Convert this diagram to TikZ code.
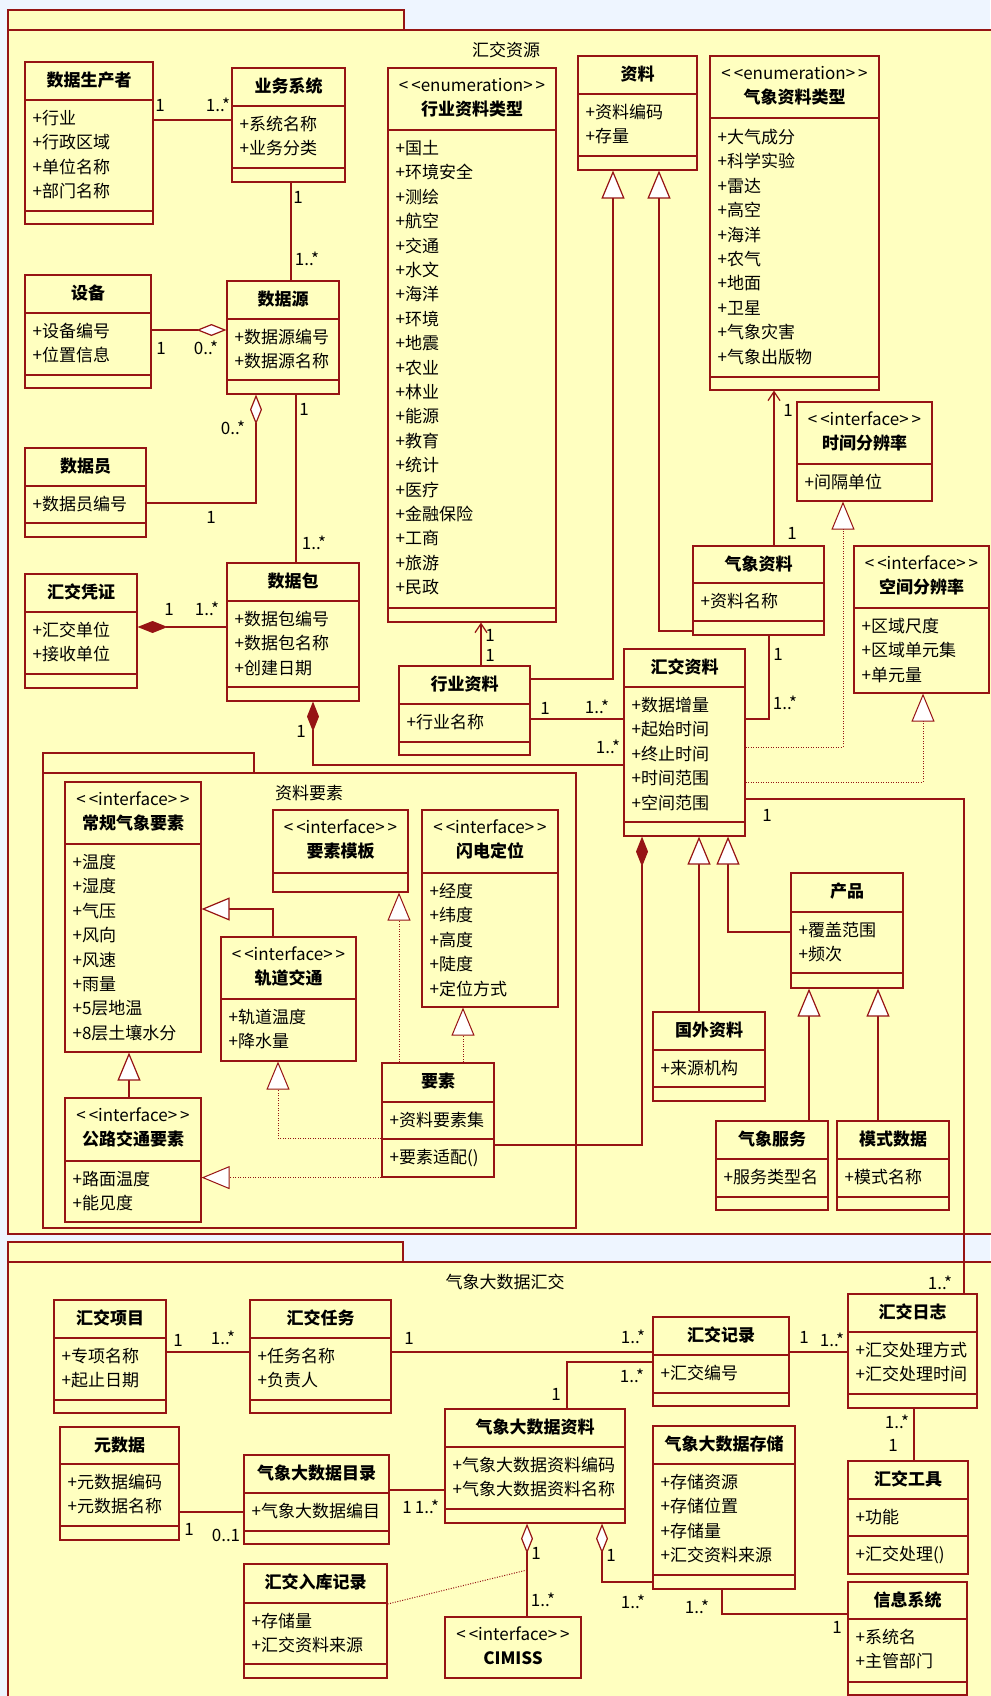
\documentclass[tikz,border=0pt]{standalone}
\usepackage{fontspec}
\setmainfont{Noto Sans CJK SC}
\usetikzlibrary{arrows.meta, fit}

\definecolor{umlred}{RGB}{150,20,20}
\definecolor{umlfill}{RGB}{255,255,192}
\definecolor{umlbg}{RGB}{238,245,255}

\newcommand{\umlfont}{\fontsize{17pt}{20pt}\selectfont}

\tikzset{
  uml/.style={draw=umlred, line width=1.2pt},
  classbox/.style={uml, fill=umlfill, inner sep=0pt},
  pkg/.style={uml, fill=umlfill, inner sep=0pt},
  plabel/.style={inner sep=0pt, font=\umlfont},
  ctitle/.style={inner sep=0pt, text height=15pt, text depth=2pt, font=\umlfont\bfseries},
  cstereo/.style={inner sep=0pt, text height=15pt, text depth=2pt, font=\umlfont},
  cattr/.style={anchor=west, inner sep=0pt, text height=15pt, text depth=2pt, font=\umlfont},
  mult/.style={inner sep=0pt, text height=15pt, text depth=2pt, font=\umlfont},
  assoc/.style={uml},
  dotline/.style={uml, line width=1pt, dash pattern=on 1pt off 1.5pt},
  gen/.style={uml, -{Triangle[length=28pt, width=23pt, fill=white]}},
  real/.style={dotline, -{Triangle[length=28pt, width=23pt, fill=white]}},
  navi/.style={uml, -{Straight Barb[length=9pt, width=12pt]}},
  aggr/.style={uml, {Diamond[length=30pt, width=12pt, fill=white]}-},
  comp/.style={uml, {Diamond[length=30pt, width=12pt, fill=umlred]}-},
}

% class box: name, NW corner, SE corner, divider y's, title
\newcommand{\umlclass}[5]{%
  \node[classbox, fit={(#2) (#3)}] (#1) {};
  \foreach \d in {#4} {\draw[uml] (#1.west |- 0,\d) -- (#1.east |- 0,\d);}
  \node[ctitle] (#1-t) at ([yshift=-18.5pt]#1.north) {#5};
}
% class box with stereotype
\newcommand{\umlstereo}[6]{%
  \node[classbox, fit={(#2) (#3)}] (#1) {};
  \foreach \d in {#4} {\draw[uml] (#1.west |- 0,\d) -- (#1.east |- 0,\d);}
  \node[cstereo] (#1-s) at ([yshift=-18pt]#1.north) {<\kern3pt<#5>\kern3pt>};
  \node[ctitle] (#1-t) at ([yshift=-42pt]#1.north) {#6};
}
% compartment lines: node, prefix, first y, entries
\newcommand{\umllines}[4]{%
  \foreach \a [count=\i from 0] in {#4}
    {\node[cattr, xshift=8pt] (#1-#2\i) at (#1.west |- 0,{#3+24.4*\i}) {+\a};}
}
\newcommand{\mult}[3]{\node[mult] (#1) at (#2) {#3};}

\begin{document}
\begin{tikzpicture}[x=1pt, y=-1pt, font=\umlfont]
  \path[use as bounding box, fill=umlbg] (0,0) rectangle (990,1696);

  % packages
  \node[pkg, fit={(8,30) (1000,1234)}] (pkgres) {};
  \node[pkg, fit={(8,10) (404,30)}] (pkgres-tab) {};
  \node[plabel] (pkgres-l) at (506,50) {汇交资源};
  \node[pkg, fit={(43,773) (576,1228)}] (pkgelem) {};
  \node[pkg, fit={(43,753) (254,773)}] (pkgelem-tab) {};
  \node[plabel] (pkgelem-l) at (309,793) {资料要素};
  \node[pkg, fit={(8,1262) (1000,1710)}] (pkgbig) {};
  \node[pkg, fit={(8,1242) (403,1262)}] (pkgbig-tab) {};
  \node[plabel] (pkgbig-l) at (505,1282) {气象大数据汇交};

  % classes: 汇交资源
  \umlclass{producer}{25,62}{153,224}{100,211}{数据生产者}
  \umllines{producer}{a}{118}{行业,行政区域,单位名称,部门名称}
  \umlclass{bizsys}{232,68}{345,182}{106,168}{业务系统}
  \umllines{bizsys}{a}{124}{系统名称,业务分类}
  \umlstereo{industrytype}{388,68}{556,622}{130,608}{enumeration}{行业资料类型}
  \umllines{industrytype}{a}{148}{国土,环境安全,测绘,航空,交通,水文,海洋,环境,地震,农业,林业,能源,教育,统计,医疗,金融保险,工商,旅游,民政}
  \umlclass{material}{578,56}{697,170}{94,156}{资料}
  \umllines{material}{a}{112}{资料编码,存量}
  \umlstereo{meteotype}{710,56}{879,390}{118,377}{enumeration}{气象资料类型}
  \umllines{meteotype}{a}{137}{大气成分,科学实验,雷达,高空,海洋,农气,地面,卫星,气象灾害,气象出版物}
  \umlclass{device}{25,275}{151,388}{313,375}{设备}
  \umllines{device}{a}{331}{设备编号,位置信息}
  \umlclass{datasource}{227,281}{339,394}{319,380}{数据源}
  \umllines{datasource}{a}{337}{数据源编号,数据源名称}
  \umlclass{clerk}{25,448}{146,537}{486,523}{数据员}
  \umllines{clerk}{a}{504}{数据员编号}
  \umlclass{voucher}{25,574}{137,688}{612,674}{汇交凭证}
  \umllines{voucher}{a}{630}{汇交单位,接收单位}
  \umlclass{datapack}{227,563}{359,701}{601,687}{数据包}
  \umllines{datapack}{a}{619}{数据包编号,数据包名称,创建日期}
  \umlstereo{timeres}{797,402}{932,501}{464}{interface}{时间分辨率}
  \umllines{timeres}{a}{482}{间隔单位}
  \umlclass{meteodata}{693,546}{824,635}{583,621}{气象资料}
  \umllines{meteodata}{a}{601}{资料名称}
  \umlstereo{spaceres}{854,546}{989,693}{608}{interface}{空间分辨率}
  \umllines{spaceres}{a}{626}{区域尺度,区域单元集,单元量}
  \umlclass{industrydata}{399,666}{530,755}{704,742}{行业资料}
  \umllines{industrydata}{a}{722}{行业名称}
  \umlclass{collected}{624,649}{745,836}{687,822}{汇交资料}
  \umllines{collected}{a}{705}{数据增量,起始时间,终止时间,时间范围,空间范围}
  \umlclass{foreign}{653,1012}{765,1101}{1050,1087}{国外资料}
  \umllines{foreign}{a}{1068}{来源机构}
  \umlclass{product}{791,873}{903,988}{912,973}{产品}
  \umllines{product}{a}{930}{覆盖范围,频次}
  \umlclass{service}{716,1121}{828,1210}{1159,1197}{气象服务}
  \umllines{service}{a}{1177}{服务类型名}
  \umlclass{model}{837,1121}{949,1210}{1159,1197}{模式数据}
  \umllines{model}{a}{1177}{模式名称}

  % classes: 资料要素
  \umlstereo{regular}{65,782}{201,1052}{844}{interface}{常规气象要素}
  \umllines{regular}{a}{862}{温度,湿度,气压,风向,风速,雨量,5层地温,8层土壤水分}
  \umlstereo{template}{273,810}{408,892}{873}{interface}{要素模板}
  \umlstereo{lightning}{422,810}{558,1007}{873}{interface}{闪电定位}
  \umllines{lightning}{a}{891}{经度,纬度,高度,陡度,定位方式}
  \umlstereo{rail}{221,937}{356,1061}{999}{interface}{轨道交通}
  \umllines{rail}{a}{1017}{轨道温度,降水量}
  \umlstereo{road}{65,1098}{201,1222}{1161}{interface}{公路交通要素}
  \umllines{road}{a}{1179}{路面温度,能见度}
  \umlclass{element}{382,1063}{494,1177}{1102,1139}{要素}
  \umllines{element}{a}{1120}{资料要素集}
  \umllines{element}{o}{1157}{要素适配()}

  % classes: 气象大数据汇交
  \umlclass{project}{54,1300}{166,1413}{1338,1400}{汇交项目}
  \umllines{project}{a}{1356}{专项名称,起止日期}
  \umlclass{task}{250,1300}{391,1413}{1338,1400}{汇交任务}
  \umllines{task}{a}{1356}{任务名称,负责人}
  \umlclass{record}{653,1317}{789,1406}{1355,1393}{汇交记录}
  \umllines{record}{a}{1373}{汇交编号}
  \umlclass{logbook}{848,1294}{977,1408}{1332,1394}{汇交日志}
  \umllines{logbook}{a}{1350}{汇交处理方式,汇交处理时间}
  \umlclass{metadata}{60,1427}{179,1540}{1464,1526}{元数据}
  \umllines{metadata}{a}{1482}{元数据编码,元数据名称}
  \umlclass{catalog}{244,1455}{389,1544}{1493,1531}{气象大数据目录}
  \umllines{catalog}{a}{1511}{气象大数据编目}
  \umlclass{bigdata}{445,1409}{625,1523}{1447,1509}{气象大数据资料}
  \umllines{bigdata}{a}{1465}{气象大数据资料编码,气象大数据资料名称}
  \umlclass{storage}{653,1426}{795,1589}{1464,1575}{气象大数据存储}
  \umllines{storage}{a}{1482}{存储资源,存储位置,存储量,汇交资料来源}
  \umlclass{tool}{848,1461}{968,1574}{1499,1536}{汇交工具}
  \umllines{tool}{a}{1517}{功能}
  \umllines{tool}{o}{1554}{汇交处理()}
  \umlclass{inrecord}{244,1564}{387,1678}{1603,1664}{汇交入库记录}
  \umllines{inrecord}{a}{1621}{存储量,汇交资料来源}
  \node[classbox, fit={(445,1617) (581,1678)}] (cimiss) {};
  \node[cstereo] (cimiss-s) at ([yshift=-18pt]cimiss.north) {<\kern3pt<interface>\kern3pt>};
  \node[ctitle] (cimiss-t) at ([yshift=-42pt]cimiss.north) {CIMISS};
  \umlclass{infosys}{848,1582}{967,1695}{1619,1682}{信息系统}
  \umllines{infosys}{a}{1637}{系统名,主管部门}

  % connectors: 汇交资源
  \draw[assoc] (producer.east |- 0,120) -- (bizsys.west |- 0,120);
  \draw[assoc] (291,0 |- bizsys.south) -- (291,0 |- datasource.north);
  \draw[aggr] (datasource.west |- 0,330) -- (device.east |- 0,330);
  \draw[aggr] (256,0 |- datasource.south) |- (clerk.east |- 0,503);
  \draw[assoc] (296,0 |- datasource.south) -- (296,0 |- datapack.north);
  \draw[comp] (voucher.east |- 0,627) -- (datapack.west |- 0,627);
  \draw[comp] (313,0 |- datapack.south) |- (collected.west |- 0,765);
  \draw[navi] (481,0 |- industrydata.north) -- (481,0 |- industrytype.south);
  \draw[assoc] (industrydata.east |- 0,719) -- (collected.west |- 0,719);
  \draw[gen] (industrydata.east |- 0,679) -| (613,0 |- material.south);
  \draw[gen] (meteodata.west |- 0,631) -| (659,0 |- material.south);
  \draw[navi] (774,0 |- meteodata.north) -- (774,0 |- meteotype.south);
  \draw[assoc] (769,0 |- meteodata.south) |- (collected.east |- 0,719);
  \draw[real] (collected.east |- 0,747) -| (843,0 |- timeres.south);
  \draw[real] (collected.east |- 0,782) -| (923,0 |- spaceres.south);
  \draw[assoc] (collected.east |- 0,799) -| (964,0 |- logbook.north);
  \draw[comp] (642,0 |- collected.south) |- (element.east |- 0,1145);
  \draw[gen] (699,0 |- foreign.north) -- (699,0 |- collected.south);
  \draw[gen] (product.west |- 0,932) -| (728,0 |- collected.south);
  \draw[gen] (809,0 |- service.north) -- (809,0 |- product.south);
  \draw[gen] (878,0 |- model.north) -- (878,0 |- product.south);

  % connectors: 资料要素
  \draw[gen] (273,0 |- rail.north) |- (regular.east |- 0,909);
  \draw[gen] (129,0 |- road.north) -- (129,0 |- regular.south);
  \draw[real] (399,0 |- element.north) -- (399,0 |- template.south);
  \draw[real] (463,0 |- element.north) -- (463,0 |- lightning.south);
  \draw[real] (element.west |- 0,1138) -| (278,0 |- rail.south);
  \draw[real] (element.south west) -- (road.east |- element.south west);

  % connectors: 气象大数据汇交
  \draw[assoc] (project.east |- 0,1352) -- (task.west |- 0,1352);
  \draw[assoc] (task.east |- 0,1352) -- (record.west |- 0,1352);
  \draw[assoc] (567,0 |- bigdata.north) |- (record.west |- 0,1362);
  \draw[assoc] (record.east |- 0,1352) -- (logbook.west |- 0,1352);
  \draw[assoc] (914,0 |- logbook.south) -- (914,0 |- tool.north);
  \draw[assoc] (metadata.east |- 0,1512) -- (catalog.west |- 0,1512);
  \draw[assoc] (catalog.east |- 0,1490) -- (bigdata.west |- 0,1490);
  \draw[aggr] (527,0 |- bigdata.south) -- (527,0 |- cimiss.north);
  \draw[aggr] (602,0 |- bigdata.south) |- (storage.west |- 0,1582);
  \draw[assoc] (722,0 |- storage.south) |- (infosys.west |- 0,1614);
  \coordinate (assocpt) at (527,1570);
  \draw[dotline] (inrecord.east |- 0,1604) -- (assocpt);

  % multiplicities
  \mult{m-prod}{160,105}{1}
  \mult{m-sys}{218,105}{1..*}
  \mult{m-sys2}{298,197}{1}
  \mult{m-src}{307,259}{1..*}
  \mult{m-dev}{161,348}{1}
  \mult{m-src2}{206,348}{0..*}
  \mult{m-src3}{233,428}{0..*}
  \mult{m-clerk}{211,517}{1}
  \mult{m-src4}{304,409}{1}
  \mult{m-pack}{314,543}{1..*}
  \mult{m-vou}{169,609}{1}
  \mult{m-pack2}{207,609}{1..*}
  \mult{m-pack3}{301,731}{1}
  \mult{m-coll}{608,747}{1..*}
  \mult{m-ind}{490,635}{1}
  \mult{m-indt}{490,655}{1}
  \mult{m-ind2}{545,708}{1}
  \mult{m-coll2}{597,707}{1..*}
  \mult{m-met}{788,410}{1}
  \mult{m-mett}{792,533}{1}
  \mult{m-met2}{778,654}{1}
  \mult{m-coll3}{785,703}{1..*}
  \mult{m-coll4}{767,815}{1}
  \mult{m-log}{940,1283}{1..*}
  \mult{m-proj}{178,1340}{1}
  \mult{m-task}{223,1338}{1..*}
  \mult{m-task2}{409,1338}{1}
  \mult{m-rec}{633,1337}{1..*}
  \mult{m-big}{556,1394}{1}
  \mult{m-rec2}{632,1376}{1..*}
  \mult{m-rec3}{804,1337}{1}
  \mult{m-log2}{832,1340}{1..*}
  \mult{m-log3}{897,1422}{1..*}
  \mult{m-tool}{893,1445}{1}
  \mult{m-meta}{189,1529}{1}
  \mult{m-cat}{226,1535}{0..1}
  \mult{m-cat2}{407,1507}{1}
  \mult{m-big2}{427,1507}{1..*}
  \mult{m-big3}{536,1553}{1}
  \mult{m-cim}{543,1600}{1..*}
  \mult{m-big4}{611,1555}{1}
  \mult{m-sto}{633,1602}{1..*}
  \mult{m-sto2}{697,1607}{1..*}
  \mult{m-info}{837,1627}{1}
\end{tikzpicture}
\end{document}
